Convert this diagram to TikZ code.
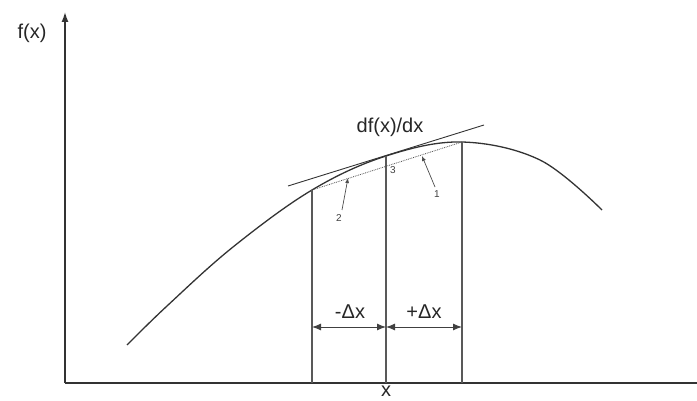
\documentclass[tikz,border=0pt]{standalone}
\usepackage{fontspec}
\setmainfont{Liberation Sans}
\usetikzlibrary{arrows.meta}
\begin{document}
\begin{tikzpicture}[x=1pt,y=-1pt,
  axis/.style={line width=1.4pt, draw=black!80},
  curve/.style={line width=1.3pt, draw=black!80},
  vline/.style={line width=1.1pt, draw=black!65},
  dimarrow/.style={line width=1pt, draw=black!75, {Latex[length=9pt,width=7pt]}-{Latex[length=9pt,width=7pt]}},
  ptr/.style={line width=0.7pt, draw=black!70, -{Latex[length=5pt,width=4pt]}},
  bigtxt/.style={font=\fontsize{20}{24}\selectfont, text=black!85, inner sep=0pt},
  smalltxt/.style={font=\fontsize{10}{11}\selectfont, text=black!75, inner sep=0pt}]
\useasboundingbox (0,0) rectangle (697,401);
% axes
\coordinate (O) at (65,383);
\coordinate (Ytop) at (65,12);
\coordinate (Xend) at (697,383);
\draw[axis,-{Latex[length=10pt,width=7pt]}] (O) -- (Ytop);
\draw[axis] (O) -- (Xend);
% curve points
\coordinate (c0) at (127,345);
\coordinate (c1) at (167,306);
\coordinate (c2) at (233,247);
\coordinate (A) at (312,190);
\coordinate (B) at (386,156);
\coordinate (C) at (462,142);
\coordinate (c6) at (540,160);
\coordinate (c7) at (602,210);
\draw[curve] plot[smooth,tension=0.6] coordinates {(c0) (c1) (c2) (A) (B) (C) (c6) (c7)};
% verticals
\coordinate (Ab) at (312,383);
\coordinate (Bb) at (386,383);
\coordinate (Cb) at (462,383);
\draw[vline] (A) -- (Ab);
\draw[vline] (B) -- (Bb);
\draw[vline] (C) -- (Cb);
% tangent
\coordinate (T1) at (288,186);
\coordinate (T2) at (484,125);
\draw[line width=0.9pt, draw=black!80] (T1) -- (T2);
% chord
\draw[line width=0.8pt, draw=black!70, densely dotted] (A) -- (C);
% dimension arrows
\coordinate (dA) at (312,327);
\coordinate (dB) at (386,327);
\coordinate (dC) at (462,327);
\draw[dimarrow] (dA) -- (dB);
\draw[dimarrow] (dB) -- (dC);
% pointers
\coordinate (p1s) at (435,187);
\coordinate (p1e) at (422,156);
\coordinate (p2s) at (342,210);
\coordinate (p2e) at (348,178);
\draw[ptr] (p1s) -- (p1e);
\draw[ptr] (p2s) -- (p2e);
% labels
\node[bigtxt] (fx) at (32,33) {f(x)};
\node[bigtxt] (dfdx) at (390,127) {df(x)/dx};
\node[bigtxt] (mdx) at (350,312) {-Δx};
\node[bigtxt] (pdx) at (424,312) {+Δx};
\node[bigtxt] (xl) at (386,391) {x};
\node[smalltxt] (n1) at (437,194) {1};
\node[smalltxt] (n2) at (339,218) {2};
\node[smalltxt] (n3) at (393,170) {3};
\end{tikzpicture}
\end{document}
